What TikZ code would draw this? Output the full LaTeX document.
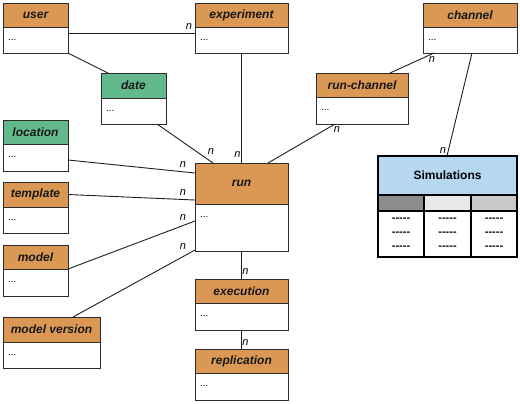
\documentclass[tikz,border=0pt]{standalone}
\usepackage{fontspec}
\newfontfamily\ar{Liberation Sans}
\usetikzlibrary{calc}
\definecolor{ora}{RGB}{218,152,84}
\definecolor{grn}{RGB}{98,186,140}
\definecolor{lblue}{RGB}{182,215,240}
\definecolor{boxline}{RGB}{45,45,45}
\definecolor{linecol}{RGB}{30,30,30}
\definecolor{gdark}{RGB}{140,140,140}
\definecolor{glight}{RGB}{232,232,232}
\definecolor{gmid}{RGB}{200,200,200}
\newcommand\ent[8]{%
  \node[hdr, fill=#7, minimum width=#4bp, minimum height=#5bp, anchor=north west] (#1) at (#2,#3) {#8};
  \node[bdy, minimum width=#4bp, minimum height=#6bp, anchor=north west] (#1-b) at (#1.south west) {};
  \node[dotsty, anchor=west] (#1-d) at ($(#1-b.north west)+(5,13)$) {...};
}
\begin{document}
\begin{tikzpicture}[x=1bp,y=-1bp,
  every node/.style={outer sep=0pt},
  hdr/.style={draw=boxline, line width=1bp, inner sep=0pt, text=black!90,
    font=\ar\bfseries\itshape\fontsize{12bp}{14bp}\selectfont},
  bdy/.style={draw=boxline, line width=1bp, fill=white, inner sep=0pt},
  dotsty/.style={font=\ar\fontsize{10bp}{12bp}\selectfont, inner sep=0pt},
  nlab/.style={font=\ar\itshape\fontsize{11bp}{13bp}\selectfont, inner sep=0pt},
  conn/.style={draw=linecol, line width=0.9bp},
  simcell/.style={draw=black, line width=1.5bp, inner sep=0pt, anchor=north west},
  dashtxt/.style={font=\ar\bfseries\fontsize{11bp}{14bp}\selectfont, align=center}
]
\useasboundingbox (0,0) rectangle (520,403);

\ent{user}{3}{3}{65}{24}{26}{ora}{user}
\ent{experiment}{195}{3}{93}{24}{26}{ora}{experiment}
\ent{channel}{423}{3}{94}{24}{26}{ora}{channel}
\ent{date}{101}{73}{65}{25}{26}{grn}{date}
\ent{runchannel}{316}{73}{92}{24}{27}{ora}{run-channel}
\ent{location}{3}{120}{65}{24}{27}{grn}{location}
\ent{run}{195}{163}{93}{41}{47}{ora}{run}
\ent{template}{3}{182}{65}{25}{26}{ora}{template}
\ent{model}{3}{245}{65}{24}{27}{ora}{model}
\ent{modelversion}{3}{317}{97}{25}{26}{ora}{model version}
\ent{execution}{195}{279}{93}{24}{27}{ora}{execution}
\ent{replication}{195}{349}{93}{24}{27}{ora}{replication}

% Simulations table
\node[simcell, fill=lblue, minimum width=139bp, minimum height=39bp,
  font=\ar\bfseries\fontsize{12bp}{14bp}\selectfont] (sim) at (378,156) {Simulations};
\node[simcell, fill=gdark, minimum width=46bp, minimum height=16bp] (simg1) at (sim.south west) {};
\node[simcell, fill=glight, minimum width=47bp, minimum height=16bp] (simg2) at (simg1.north east) {};
\node[simcell, fill=gmid, minimum width=46bp, minimum height=16bp] (simg3) at (simg2.north east) {};
\node[simcell, fill=white, minimum width=46bp, minimum height=46bp] (simc1) at (simg1.south west) {};
\node[simcell, fill=white, minimum width=47bp, minimum height=46bp] (simc2) at (simg2.south west) {};
\node[simcell, fill=white, minimum width=46bp, minimum height=46bp] (simc3) at (simg3.south west) {};
\node[dashtxt] at (simc1.center) {{-}{-}{-}{-}{-}\\{-}{-}{-}{-}{-}\\{-}{-}{-}{-}{-}};
\node[dashtxt] at (simc2.center) {{-}{-}{-}{-}{-}\\{-}{-}{-}{-}{-}\\{-}{-}{-}{-}{-}};
\node[dashtxt] at (simc3.center) {{-}{-}{-}{-}{-}\\{-}{-}{-}{-}{-}\\{-}{-}{-}{-}{-}};
\draw[black, line width=2bp] (sim.north west) rectangle (simc3.south east);

% connectors
\draw[conn] ($(user-b.north east)+(0,6)$) -- ($(experiment-b.north west)+(0,6)$)
  node[nlab, at end, shift={(-6,-6)}] {n};
\draw[conn] (user-b.south east) -- ($(date.north west)+(7,0)$);
\draw[conn] ($(date-b.south west)+(56,0)$) -- ($(run.north west)+(18,0)$)
  node[nlab, at end, shift={(-2,-11)}] {n};
\draw[conn] (experiment-b.south) -- (run.north)
  node[nlab, at end, shift={(-4,-8)}] {n};
\draw[conn] ($(runchannel-b.south west)+(19,0)$) -- ($(run.north west)+(73,0)$)
  node[nlab, at start, shift={(2,6)}] {n};
\draw[conn] ($(channel-b.south west)+(11,0)$) -- ($(runchannel.north west)+(74,0)$)
  node[nlab, at start, shift={(-2,7)}] {n};
\draw[conn] ($(channel-b.south west)+(49,0)$) -- ($(sim.north west)+(69,0)$)
  node[nlab, at end, shift={(-4,-5)}] {n};
\draw[conn] ($(location-b.north east)+(0,16)$) -- ($(run.north west)+(0,10)$)
  node[nlab, at end, shift={(-12,-8)}] {n};
\draw[conn] (template.east) -- ($(run.north west)+(0,37)$)
  node[nlab, at end, shift={(-12,-7)}] {n};
\draw[conn] (model-b.north east) -- ($(run-b.north west)+(0,17)$)
  node[nlab, at end, shift={(-12,-3)}] {n};
\draw[conn] ($(modelversion.north west)+(70,0)$) -- ($(run-b.south west)+(0,-1)$)
  node[nlab, at end, shift={(-12,-3)}] {n};
\draw[conn] (run-b.south) -- (execution.north)
  node[nlab, at end, shift={(4,-7)}] {n};
\draw[conn] (execution-b.south) -- (replication.north)
  node[nlab, at end, shift={(4,-6)}] {n};
\end{tikzpicture}
\end{document}
